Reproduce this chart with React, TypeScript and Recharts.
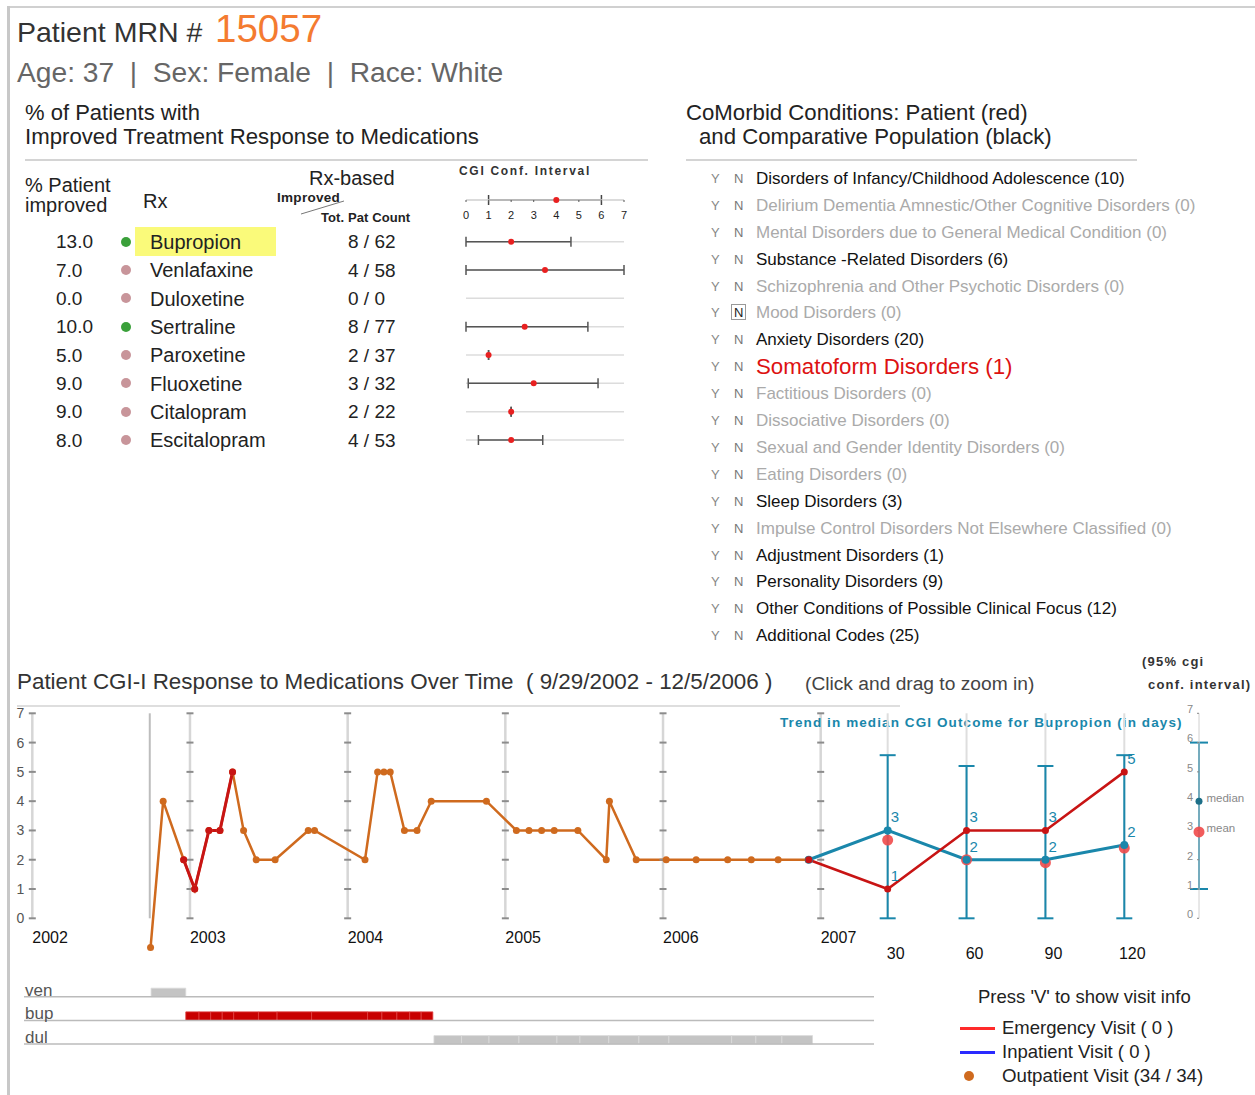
import React from 'react';
import {
  ComposedChart,
  Line,
  Scatter,
  XAxis,
  YAxis,
  ReferenceLine,
  ReferenceArea,
  ErrorBar,
  LabelList,
} from 'recharts';

const FONT = '"Liberation Sans", Arial, sans-serif';
const TEAL = '#1a87ab';
const ORANGE = '#cf6a1e';
const RED = '#c81414';

// medication response table
const drugs = ['Bupropion', 'Venlafaxine', 'Duloxetine', 'Sertraline', 'Paroxetine', 'Fluoxetine', 'Citalopram', 'Escitalopram'];
const pctImproved = [13.0, 7.0, 0.0, 10.0, 5.0, 9.0, 9.0, 8.0];
const improvedCount = [8, 4, 0, 8, 2, 3, 2, 4];
const totalCount = [62, 58, 0, 77, 37, 32, 22, 53];
const favourable = [true, false, false, true, false, false, false, false];
const cgiMean = [2.0, 3.5, null, 2.6, 1.0, 3.0, 2.0, 2.0];
const cgiLow = [0, 0, null, 0, 1.0, 0.1, 2.0, 0.55];
const cgiHigh = [4.65, 7, null, 5.4, 1.0, 5.85, 2.0, 3.4];
const cgiLevels = [0, 1, 2, 3, 4, 5, 6, 7];
// example interval shown in the column header: low, mean, high
const headerInterval = [1, 4, 6];

// comorbid conditions
const comorbidNames = [
  'Disorders of Infancy/Childhood Adolescence',
  'Delirium Dementia Amnestic/Other Cognitive Disorders',
  'Mental Disorders due to General Medical Condition',
  'Substance -Related Disorders',
  'Schizophrenia and Other Psychotic Disorders',
  'Mood Disorders',
  'Anxiety Disorders',
  'Somatoform Disorders',
  'Factitious Disorders',
  'Dissociative Disorders',
  'Sexual and Gender Identity Disorders',
  'Eating Disorders',
  'Sleep Disorders',
  'Impulse Control Disorders Not Elsewhere Classified',
  'Adjustment Disorders',
  'Personality Disorders',
  'Other Conditions of Possible Clinical Focus',
  'Additional Codes',
];
const comorbidCounts = [10, 0, 0, 6, 0, 0, 20, 1, 0, 0, 0, 0, 3, 0, 1, 9, 12, 25];
const patientConditions = ['Somatoform Disorders'];
const selectedNo = ['Mood Disorders'];

// CGI-I visits over time (decimal years)
const visitDates = [
  2002.75, 2002.83, 2002.96, 2003.03, 2003.12, 2003.19, 2003.27, 2003.34, 2003.42, 2003.54,
  2003.75, 2003.79, 2004.11, 2004.19, 2004.23, 2004.27, 2004.36, 2004.44, 2004.53, 2004.88,
  2005.07, 2005.15, 2005.23, 2005.31, 2005.46, 2005.64, 2005.66, 2005.83, 2006.02, 2006.21,
  2006.41, 2006.56, 2006.73, 2006.92,
];
const cgiScores = [-1, 4, 2, 1, 3, 3, 5, 3, 2, 2, 3, 3, 2, 5, 5, 5, 3, 3, 4, 4, 3, 3, 3, 3, 3, 2, 4, 2, 2, 2, 2, 2, 2, 2];
const highlightRange = [2, 6];
const yearTicks = [2002, 2003, 2004, 2005, 2006, 2007];
const episodeStart = 2002.745;

// trend for bupropion (days)
const trendDays = [0, 30, 60, 90, 120];
const trendMedian = [2, 3, 2, 2, 2.5];
const trendMedianLabels = ['', '3', '2', '2', '2'];
const trendPatient = [2, 1, 3, 3, 5];
const trendMean = [null, 2.67, 2.0, 1.9, 2.4];
const trendLow = [null, 0, 0, 0, 0];
const trendHigh = [null, 5.57, 5.2, 5.2, 5.57];
const trendDayTicks = [30, 60, 90, 120];

// 95% cgi legend: low, median, mean, high
const confLegend = [1, 4, 2.95, 6];

// medication timeline
const medRows = ['ven', 'bup', 'dul'];
const medBreaks = [
  [2002.753, 2002.973],
  [2002.973, 2003.057, 2003.131, 2003.204, 2003.277, 2003.434, 2003.552, 2003.771, 2004.126, 2004.217, 2004.312, 2004.393, 2004.466, 2004.54],
  [2004.547, 2004.722, 2004.896, 2005.086, 2005.327, 2005.473, 2005.656, 2005.847, 2006.037, 2006.435, 2006.589, 2006.754, 2006.948],
];
const medColors = ['#c4c4c4', '#c80000', '#c4c4c4'];
const medDividers = ['#dadada', '#e04040', '#dadada'];

// ---- derived tables ----
const ciRows = drugs
  .map((d, i) => ({ row: i, mean: cgiMean[i], err: cgiMean[i] == null ? null : [cgiMean[i]! - cgiLow[i]!, cgiHigh[i]! - cgiMean[i]!] }))
  .filter((r) => r.mean != null);
const headerRow = [{ row: 0, mean: headerInterval[1], err: [headerInterval[1] - headerInterval[0], headerInterval[2] - headerInterval[1]] }];

const visits = visitDates.map((t, i) => ({ t, cgi: cgiScores[i] }));
const highlighted = visits.slice(highlightRange[0], highlightRange[1] + 1);
const gridDashes = yearTicks.flatMap((t) => cgiLevels.map((v) => ({ t, v })));

const trendTeal = trendDays.map((day, i) => ({ day, v: trendMedian[i], lbl: trendMedianLabels[i] }));
const trendRed = trendDays.map((day, i) => ({ day, v: trendPatient[i], lbl: i === 0 ? '' : String(trendPatient[i]) }));
const trendMeans = trendDays.map((day, i) => ({ day, v: trendMean[i] })).filter((p) => p.v != null);
const trendCI = trendDays
  .map((day, i) => ({ day, v: trendMedian[i], err: trendLow[i] == null ? null : [trendMedian[i] - trendLow[i]!, trendHigh[i]! - trendMedian[i]] }))
  .filter((p) => p.err != null);

const legendCI = [{ x: 0, v: confLegend[1], err: [confLegend[1] - confLegend[0], confLegend[3] - confLegend[1]], name: 'median' }];
const legendMean = [{ x: 0, v: confLegend[2], name: 'mean' }];

const medSegments = medRows.flatMap((m, r) =>
  medBreaks[r].slice(1).map((end, k) => ({ row: medRows.length - r, start: medBreaks[r][k], end, fill: medColors[r], stroke: medDividers[r] })),
);

// ---- small pieces ----
const Txt = ({ x, y, fs, children, color = '#222', weight = 400, ls = 0, family = FONT }: any) => (
  <div
    style={{
      position: 'absolute', left: x, top: y - 0.49 * fs, fontSize: fs, lineHeight: 1, color,
      fontWeight: weight, letterSpacing: ls, fontFamily: family, whiteSpace: 'pre',
    }}
  >
    {children}
  </div>
);

const HLine = ({ x, y, w, color = '#d4d4d4', h = 2 }: any) => (
  <div style={{ position: 'absolute', left: x, top: y - h / 2, width: w, height: h, background: color }} />
);

const GridDash = (p: any) => <line x1={p.cx - 3.5} x2={p.cx + 3.5} y1={p.cy} y2={p.cy} stroke="#8c8c8c" strokeWidth={2} />;
const RedDot = (p: any) => <circle cx={p.cx} cy={p.cy} r={3} fill="#e82020" />;
const MeanDot = (p: any) => <circle cx={p.cx} cy={p.cy} r={5.5} fill="#f04a4a" fillOpacity={0.9} />;
const TealDot = (p: any) => <circle cx={p.cx} cy={p.cy} r={3.5} fill="#1d6f88" />;
const NoShape = () => <g />;

const YearTick = (p: any) => (
  <text x={p.x} y={p.y - 13} fontSize={16} fill="#111" fontFamily={FONT} textAnchor="start">
    {p.payload.value}
  </text>
);
const DayTick = (p: any) => (
  <text x={p.x + 8} y={p.y + 3} fontSize={16} fill="#111" fontFamily={FONT} textAnchor="middle">
    {p.payload.value}
  </text>
);
const TrendLabel = (p: any) =>
  p.value ? (
    <text x={p.x + 3} y={p.y - 8} fontSize={15} fill={TEAL} fontFamily={FONT}>
      {p.value}
    </text>
  ) : null;
const SideLabel = (p: any) => (
  <text x={p.x + 12} y={p.y + 5} fontSize={11.5} fill="#888" fontFamily={FONT}>
    {p.value}
  </text>
);

export default function App() {
  return (
    <div style={{ position: 'absolute', left: 0, top: 0, width: 1255, height: 1095, background: '#fff', fontFamily: FONT, overflow: 'hidden' }}>
      {/* frame */}
      <div style={{ position: 'absolute', left: 8, top: 6, width: 1247, height: 2, background: '#d0d0d0' }} />
      <div style={{ position: 'absolute', left: 7, top: 6, width: 3, height: 1089, background: '#c8c8c8' }} />

      {/* header */}
      <Txt x={17} y={32} fs={28.5} color="#333">Patient MRN #</Txt>
      <Txt x={215} y={29} fs={38.5} color="#f47b30">15057</Txt>
      <Txt x={17} y={72} fs={28.2} color="#666">{'Age: 37  |  Sex: Female  |  Race: White'}</Txt>

      {/* medication section */}
      <Txt x={25} y={113} fs={22}>% of Patients with</Txt>
      <Txt x={25} y={137} fs={22.2}>Improved Treatment Response to Medications</Txt>
      <HLine x={25} y={160} w={623} />

      <Txt x={25} y={185} fs={20}>% Patient</Txt>
      <Txt x={25} y={205} fs={20}>improved</Txt>
      <Txt x={143} y={201} fs={20}>Rx</Txt>
      <Txt x={309} y={178} fs={20}>Rx-based</Txt>
      <Txt x={277} y={198} fs={13.5} weight={700} ls={0.3}>Improved</Txt>
      <Txt x={321} y={217} fs={13} weight={700} ls={0.1}>Tot. Pat Count</Txt>
      <svg style={{ position: 'absolute', left: 0, top: 0 }} width={400} height={230}>
        <line x1={301} y1={214} x2={344} y2={201} stroke="#777" strokeWidth={1} />
      </svg>
      <Txt x={459} y={171} fs={12} weight={700} ls={1.7} color="#333">CGI Conf. Interval</Txt>

      <div style={{ position: 'absolute', left: 135, top: 227, width: 141, height: 29, background: '#fafa7a' }} />
      {drugs.map((d, i) => {
        const y = 241.7 + i * 28.33;
        return (
          <React.Fragment key={d}>
            <Txt x={56} y={y} fs={19}>{pctImproved[i].toFixed(1)}</Txt>
            <div style={{ position: 'absolute', left: 121, top: y - 5, width: 10, height: 10, borderRadius: 5, background: favourable[i] ? '#3aa03a' : '#c8959a' }} />
            <Txt x={150} y={y} fs={20}>{d}</Txt>
            <Txt x={348} y={y} fs={19}>{`${improvedCount[i]} / ${totalCount[i]}`}</Txt>
          </React.Fragment>
        );
      })}

      {/* CGI interval header axis */}
      <div style={{ position: 'absolute', left: 440, top: 180 }}>
        <ComposedChart width={210} height={45} data={headerRow} margin={{ top: 5, right: 26, bottom: 0, left: 26 }}>
          <XAxis type="number" dataKey="mean" domain={[0, 7]} ticks={cgiLevels} interval={0} height={25}
            axisLine={{ stroke: '#cfcfcf', strokeWidth: 1.5 }} tickLine={{ stroke: '#555' }} tickSize={2} tickMargin={9}
            tick={{ fontSize: 11, fill: '#222', fontFamily: FONT }} />
          <YAxis type="number" dataKey="row" domain={[0, 1]} hide />
          <Scatter data={headerRow} dataKey="mean" shape={RedDot} isAnimationActive={false}>
            <ErrorBar dataKey="err" direction="x" width={5} stroke="#444" strokeWidth={1.5} isAnimationActive={false} />
          </Scatter>
        </ComposedChart>
      </div>

      {/* CGI interval rows */}
      <div style={{ position: 'absolute', left: 440, top: 225 }}>
        <ComposedChart width={210} height={232} data={ciRows} margin={{ top: 2.5, right: 26, bottom: 2.8, left: 26 }}>
          <XAxis type="number" dataKey="mean" domain={[0, 7]} hide />
          <YAxis type="number" dataKey="row" domain={[-0.5, 7.5]} reversed hide />
          {drugs.map((d, i) => (
            <ReferenceLine key={d} y={i} stroke="#dcdcdc" strokeWidth={1.5} />
          ))}
          <Scatter data={ciRows} dataKey="mean" shape={RedDot} isAnimationActive={false}>
            <ErrorBar dataKey="err" direction="x" width={5} stroke="#555" strokeWidth={1.5} isAnimationActive={false} />
          </Scatter>
        </ComposedChart>
      </div>

      {/* comorbid section */}
      <Txt x={686} y={113} fs={22.2}>CoMorbid Conditions: Patient (red)</Txt>
      <Txt x={699} y={137} fs={22.2}>and Comparative Population (black)</Txt>
      <HLine x={686} y={160} w={451} />
      {comorbidNames.map((n, i) => {
        const y = 178.3 + i * 26.9;
        const isPatient = patientConditions.includes(n);
        const color = isPatient ? '#dd1111' : comorbidCounts[i] > 0 ? '#111' : '#aaa';
        const boxed = selectedNo.includes(n);
        return (
          <React.Fragment key={n}>
            <Txt x={711} y={y} fs={13} color="#888">Y</Txt>
            {boxed && <div style={{ position: 'absolute', left: 731, top: y - 8.5, width: 15, height: 16, border: '1px solid #999', boxSizing: 'border-box' }} />}
            <Txt x={734} y={y} fs={13} color={boxed ? '#222' : '#777'}>N</Txt>
            <Txt x={756} y={y} fs={isPatient ? 22.3 : 17} color={color}>{`${n} (${comorbidCounts[i]})`}</Txt>
          </React.Fragment>
        );
      })}

      {/* time chart titles */}
      <Txt x={17} y={682} fs={22.4} color="#333">{'Patient CGI-I Response to Medications Over Time  ( 9/29/2002 - 12/5/2006 )'}</Txt>
      <Txt x={805} y={683} fs={19.2} color="#444">(Click and drag to zoom in)</Txt>
      <HLine x={17} y={706} w={883} color="#dedede" />
      <Txt x={1142} y={661} fs={13} weight={700} ls={1.2} color="#333">(95% cgi</Txt>
      <Txt x={1148} y={684} fs={13} weight={700} ls={1.2} color="#333">conf. interval)</Txt>

      {/* main CGI time series */}
      <div style={{ position: 'absolute', left: 0, top: 690 }}>
        <ComposedChart width={900} height={280} margin={{ top: 23.3, right: 79.3, bottom: 2.4, left: 12 }}>
          <XAxis type="number" dataKey="t" domain={[2002, 2007]} ticks={yearTicks} interval={0} height={20}
            axisLine={false} tickLine={false} tick={YearTick} />
          <YAxis type="number" domain={[-1, 7]} ticks={cgiLevels} interval={0} width={20.3}
            axisLine={false} tickLine={false} tick={{ fontSize: 14, fill: '#555', fontFamily: FONT }} />
          {yearTicks.map((t) => (
            <ReferenceLine key={t} segment={[{ x: t, y: 0 }, { x: t, y: 7 }]} stroke="#d6d6d6" strokeWidth={2.5} />
          ))}
          <ReferenceLine segment={[{ x: episodeStart, y: 0 }, { x: episodeStart, y: 7 }]} stroke="#bdbdbd" strokeWidth={2} />
          <Scatter data={gridDashes} dataKey="v" shape={GridDash} isAnimationActive={false} />
          <Line data={visits} dataKey="cgi" stroke={ORANGE} strokeWidth={2.5}
            dot={{ r: 3.5, fill: ORANGE, stroke: ORANGE, strokeWidth: 0 }} isAnimationActive={false} />
          <Line data={highlighted} dataKey="cgi" stroke={RED} strokeWidth={3}
            dot={{ r: 3.5, fill: RED, stroke: RED, strokeWidth: 0 }} isAnimationActive={false} />
        </ComposedChart>
      </div>

      {/* bupropion trend */}
      <Txt x={780} y={723} fs={13.5} weight={700} ls={1.1} color={TEAL}>Trend in median CGI Outcome for Bupropion (in days)</Txt>
      <div style={{ position: 'absolute', left: 780, top: 690 }}>
        <ComposedChart width={475} height={280} margin={{ top: 23.3, right: 130.7, bottom: 2.4, left: 28.8 }}>
          <XAxis type="number" dataKey="day" domain={[0, 120]} ticks={trendDayTicks} interval={0} height={20}
            axisLine={false} tickLine={false} tick={DayTick} />
          <YAxis type="number" domain={[-1, 7]} hide />
          {trendDayTicks.map((d) => (
            <ReferenceLine key={d} segment={[{ x: d, y: 0 }, { x: d, y: 7 }]} stroke="#dedede" strokeWidth={2} />
          ))}
          <Scatter data={trendCI} dataKey="v" shape={NoShape} isAnimationActive={false}>
            <ErrorBar dataKey="err" direction="y" width={8} stroke={TEAL} strokeWidth={2} isAnimationActive={false} />
          </Scatter>
          <Scatter data={trendMeans} dataKey="v" shape={MeanDot} isAnimationActive={false} />
          <Line data={trendTeal} dataKey="v" stroke={TEAL} strokeWidth={3}
            dot={{ r: 4, fill: TEAL, stroke: TEAL, strokeWidth: 0 }} isAnimationActive={false}>
            <LabelList dataKey="lbl" content={TrendLabel} />
          </Line>
          <Line data={trendRed} dataKey="v" stroke={RED} strokeWidth={2.5}
            dot={{ r: 3.5, fill: RED, stroke: RED, strokeWidth: 0 }} isAnimationActive={false}>
            <LabelList dataKey="lbl" content={TrendLabel} />
          </Line>
        </ComposedChart>
      </div>

      {/* 95% cgi legend axis */}
      <div style={{ position: 'absolute', left: 1170, top: 690 }}>
        <ComposedChart width={85} height={280} margin={{ top: 23.3, right: 16, bottom: 51.7, left: 15 }}>
          <XAxis type="number" dataKey="x" domain={[0, 1]} hide />
          <YAxis type="number" domain={[0, 7]} ticks={cgiLevels} interval={0} width={14}
            axisLine={{ stroke: '#d0d0d0' }} tickLine={{ stroke: '#888' }} tickSize={2} tickMargin={4}
            tick={{ fontSize: 11, fill: '#888', fontFamily: FONT, dy: -4 }} />
          <Scatter data={legendCI} dataKey="v" shape={TealDot} isAnimationActive={false}>
            <ErrorBar dataKey="err" direction="y" width={9} stroke={TEAL} strokeWidth={2} isAnimationActive={false} />
            <LabelList dataKey="name" content={SideLabel} />
          </Scatter>
          <Scatter data={legendMean} dataKey="v" shape={MeanDot} isAnimationActive={false}>
            <LabelList dataKey="name" content={SideLabel} />
          </Scatter>
        </ComposedChart>
      </div>

      {/* medication timeline */}
      <div style={{ position: 'absolute', left: 0, top: 970 }}>
        <ComposedChart width={900} height={100} data={medSegments} margin={{ top: 3, right: 26, bottom: 2.2, left: 24 }}>
          <XAxis type="number" dataKey="start" domain={[2001.947, 2007.338]} hide allowDataOverflow />
          <YAxis type="number" dataKey="row" domain={[0, 4]} hide allowDataOverflow />
          {medRows.map((m, r) => (
            <ReferenceLine key={m} y={medRows.length - r} stroke="#bbb" strokeWidth={1.5}
              label={{ value: m, position: 'insideBottomLeft', offset: 1, fontSize: 17, fill: '#555', fontFamily: FONT }} />
          ))}
          {medSegments.map((s, k) => (
            <ReferenceArea key={k} x1={s.start} x2={s.end} y1={s.row} y2={s.row + 0.36}
              fill={s.fill} fillOpacity={1} stroke={s.stroke} strokeWidth={0.8} ifOverflow="visible" />
          ))}
        </ComposedChart>
      </div>

      {/* visit legend */}
      <Txt x={978} y={997} fs={18.5}>Press 'V' to show visit info</Txt>
      <HLine x={960} y={1028} w={35} h={3} color="#ff2a2a" />
      <Txt x={1002} y={1028} fs={18.5}>Emergency Visit ( 0 )</Txt>
      <HLine x={960} y={1052} w={35} h={3} color="#2a2aff" />
      <Txt x={1002} y={1052} fs={18.5}>Inpatient Visit ( 0 )</Txt>
      <div style={{ position: 'absolute', left: 964, top: 1071, width: 10, height: 10, borderRadius: 5, background: ORANGE }} />
      <Txt x={1002} y={1076} fs={18.7}>Outpatient Visit (34 / 34)</Txt>
    </div>
  );
}
